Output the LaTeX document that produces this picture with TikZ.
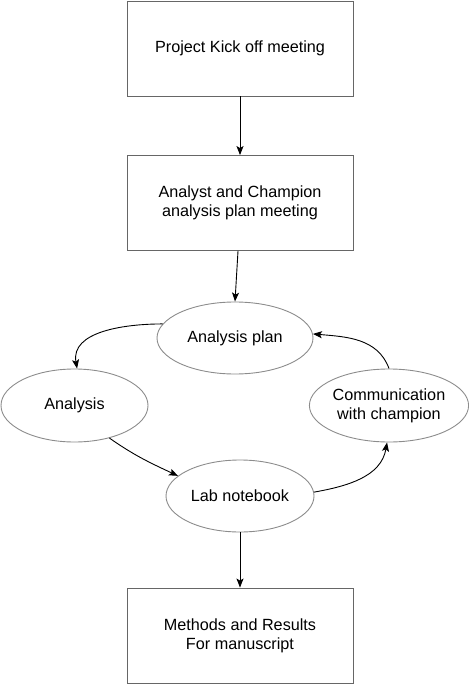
\documentclass[tikz,border=0pt]{standalone}
\usepackage{fontspec}
\setmainfont{Liberation Sans}
\usetikzlibrary{shapes.geometric,arrows.meta}
\begin{document}
\begin{tikzpicture}[x=1pt,y=-1pt,
  every node/.style={font=\fontsize{16.2}{19}\selectfont, align=center, text=black},
  boxnode/.style={draw=black!60, line width=0.9pt, rectangle, minimum width=226pt, minimum height=95pt, inner sep=0pt},
  ellnode/.style={draw=black!45, line width=0.9pt, ellipse, inner sep=0pt},
  arr/.style={draw=black, line width=0.9pt, -{Stealth[length=9pt,width=7pt,inset=2pt]}}]
\useasboundingbox (0,0) rectangle (468,684);
\node[boxnode] (b1) at (240,48.5) {Project Kick off meeting};
\node[boxnode] (b2) at (240,203) {Analyst and Champion\\analysis plan meeting};
\node[boxnode] (b3) at (240,635.5) {Methods and Results\\For manuscript};
\node[ellnode, minimum width=156pt, minimum height=72pt] (ap) at (235,338) {Analysis plan};
\node[ellnode, minimum width=147pt, minimum height=73pt] (an) at (74.5,405.5) {Analysis};
\node[ellnode, minimum width=156pt, minimum height=73pt] (cm) at (389,405.5) {Communication\\with champion};
\node[ellnode, minimum width=148pt, minimum height=72pt] (ln) at (240,496) {Lab notebook};
\draw[arr] (b1.south) -- (b2.north);
\draw[arr] ([xshift=-2pt]b2.south) -- (ap.north);
\draw[arr] (ln.south) -- (b3.north);
\draw[arr] (ap.169) to[out=180,in=100] (an.86);
\draw[arr] (an.-43) to[out=-35,in=155] (ln.162);
\draw[arr] (ln.3) to[out=10,in=-100] (cm.-93);
\draw[arr] (cm.90) to[out=110,in=-5] (ap.3);
\end{tikzpicture}
\end{document}
